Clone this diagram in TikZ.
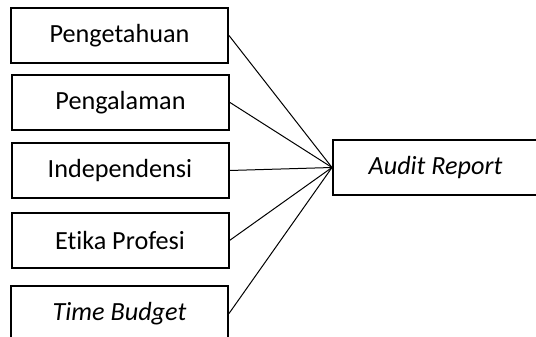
\documentclass[tikz,border=0pt]{standalone}
\usepackage{fontspec}
\setmainfont{Carlito}[Ligatures={NoCommon}]
\begin{document}
\begin{tikzpicture}[x=1pt,y=-1pt,
  var/.style={draw, line width=2pt, minimum width=217pt, minimum height=55pt, inner sep=0pt, font=\fontsize{26.2}{30}\selectfont},
  link/.style={line width=1pt}]
\useasboundingbox (0,0) rectangle (536,337);
\begin{scope}
\clip (0,0) rectangle (536,337);
\node[var] (p1) at (119.5,35.5) {Pengetahuan};
\node[var] (p2) at (120.5,102.5) {Pengalaman};
\node[var] (p3) at (120,170.5) {Independensi};
\node[var] (p4) at (120,240.5) {Etika Profesi};
\node[var] (p5) at (119.5,313.5) {\itshape Time Budget};
\node[var, minimum width=205pt, anchor=west] (ar) at (332,167.5) {\itshape Audit Report};
\foreach \i in {1,...,5} \draw[link] (p\i.east) -- (ar.west);
\end{scope}
\end{tikzpicture}
\end{document}
